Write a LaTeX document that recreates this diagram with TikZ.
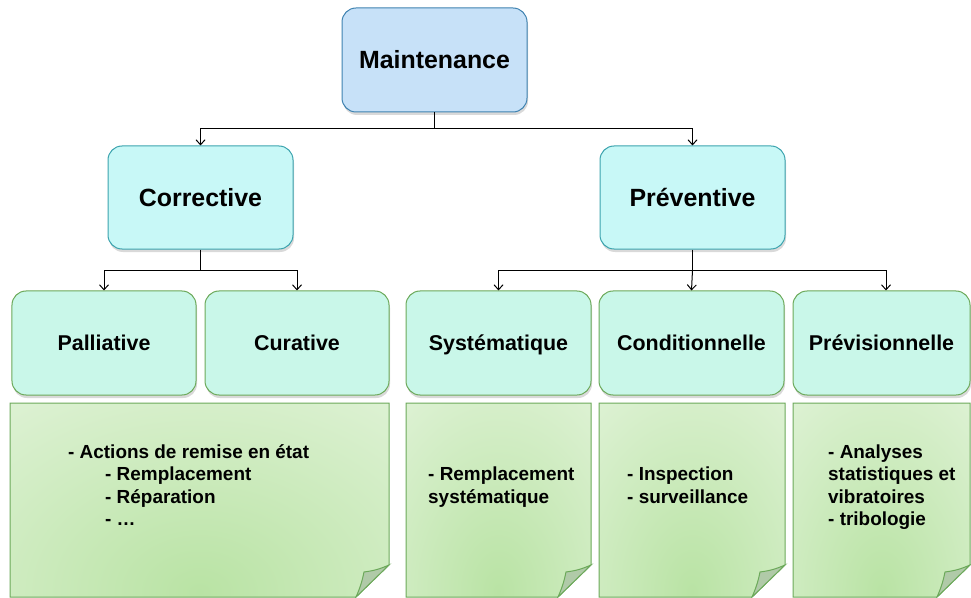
\documentclass[tikz,border=0pt]{standalone}
\usepackage{fontspec}
\setmainfont{Liberation Sans}
\usetikzlibrary{arrows.meta,shadows,calc}
\definecolor{mfill}{HTML}{C7E1F8}
\definecolor{mdraw}{HTML}{3F82B0}
\definecolor{cfill}{HTML}{C8F8F7}
\definecolor{cdraw}{HTML}{3BA3AE}
\definecolor{lfill}{HTML}{C9F7E9}
\definecolor{ldraw}{HTML}{6CA95A}
\definecolor{nlight}{HTML}{F0F9EC}
\definecolor{ndark}{HTML}{B9E3A4}
\definecolor{foldc}{HTML}{B0CAA8}
\newcommand\notebox[2]{%
  \path[draw=ldraw, line width=1bp,
    path picture={
      \fill[nlight] (path picture bounding box.north west) rectangle (path picture bounding box.south east);
      \shade[inner color=ndark, outer color=nlight]
        ($(path picture bounding box.south)+(0,-5)$) ellipse ({1.3*(#2-#1)} and 360);
    }]
    (#1,403) -- (#2,403) -- (#2,565) -- ({#2-33},597) -- (#1,597) -- cycle;
  \filldraw[fill=foldc, draw=ldraw, line width=1bp]
    (#2,565) to[bend left=8] ({#2-25},572) to[bend left=6] ({#2-33},597) -- cycle;
}
\begin{document}
\begin{tikzpicture}[x=1bp,y=-1bp,
  box/.style={rounded corners=14bp, line width=1bp, inner sep=0pt,
    minimum width=185bp, minimum height=104bp, text depth=0pt,
    drop shadow={opacity=0.3, shadow xshift=1bp, shadow yshift=-3bp}},
  topbox/.style={box, fill=mfill, draw=mdraw, text height=18bp, font=\fontsize{25}{29}\selectfont\bfseries},
  midbox/.style={box, fill=cfill, draw=cdraw, text height=18bp, minimum height=103bp, font=\fontsize{25}{29}\selectfont\bfseries},
  leafbox/.style={box, fill=lfill, draw=ldraw, text height=15.5bp, font=\fontsize{21.5}{25}\selectfont\bfseries},
  notetext/.style={anchor=north west, inner sep=0pt, align=left,
    font=\fontsize{19}{22.7}\selectfont\bfseries},
  link/.style={line width=1bp, -{Straight Barb[length=5bp,width=9bp]}},
  plain/.style={line width=1bp}
]
\useasboundingbox (0,0) rectangle (971,598);
\clip (0,0) rectangle (971,598);

% notes
\notebox{10}{389}
\notebox{406}{591}
\notebox{599}{785}
\notebox{793}{970}

% boxes
\node[topbox] (M) at (434.5,60) {Maintenance};
\node[midbox] (C) at (200.5,197.5) {Corrective};
\node[midbox] (P) at (692.5,197.5) {Préventive};
\node[leafbox, minimum width=184bp] (L1) at (104,343) {Palliative};
\node[leafbox, minimum width=184bp] (L2) at (297,343) {Curative};
\node[leafbox] (L3) at (498.5,343) {Systématique};
\node[leafbox] (L4) at (691.5,343) {Conditionnelle};
\node[leafbox, minimum width=177bp] (L5) at (881.5,343) {Prévisionnelle};

% connectors
\coordinate (j1) at (434.5,129);
\coordinate (j2) at (200.5,270);
\coordinate (j3) at (692.5,270);
\draw[plain] (M.south) -- (j1);
\draw[link] (j1) -| (C.north);
\draw[link] (j1) -| (P.north);
\draw[plain] (C.south) -- (j2);
\draw[link] (j2) -| (L1.north);
\draw[link] (j2) -| (L2.north);
\draw[plain] (P.south) -- (j3);
\draw[link] (j3) -| (L3.north);
\draw[link] (j3) -- (L4.north);
\draw[link] (j3) -| ([xshift=4.5bp]L5.north);

% note texts
\node[notetext] (T1) at (68,442) {\strut- Actions de remise en état\\
  \hspace*{37bp}- Remplacement\\
  \hspace*{37bp}- Réparation\\
  \hspace*{37bp}- \dots};
\node[notetext] (T2) at (428,464.5) {\strut- Remplacement\\systématique};
\node[notetext] (T3) at (627,464.5) {\strut- Inspection\\- surveillance};
\node[notetext] (T4) at (828,442) {\strut- Analyses\\statistiques et\\vibratoires\\- tribologie};
\end{tikzpicture}
\end{document}
